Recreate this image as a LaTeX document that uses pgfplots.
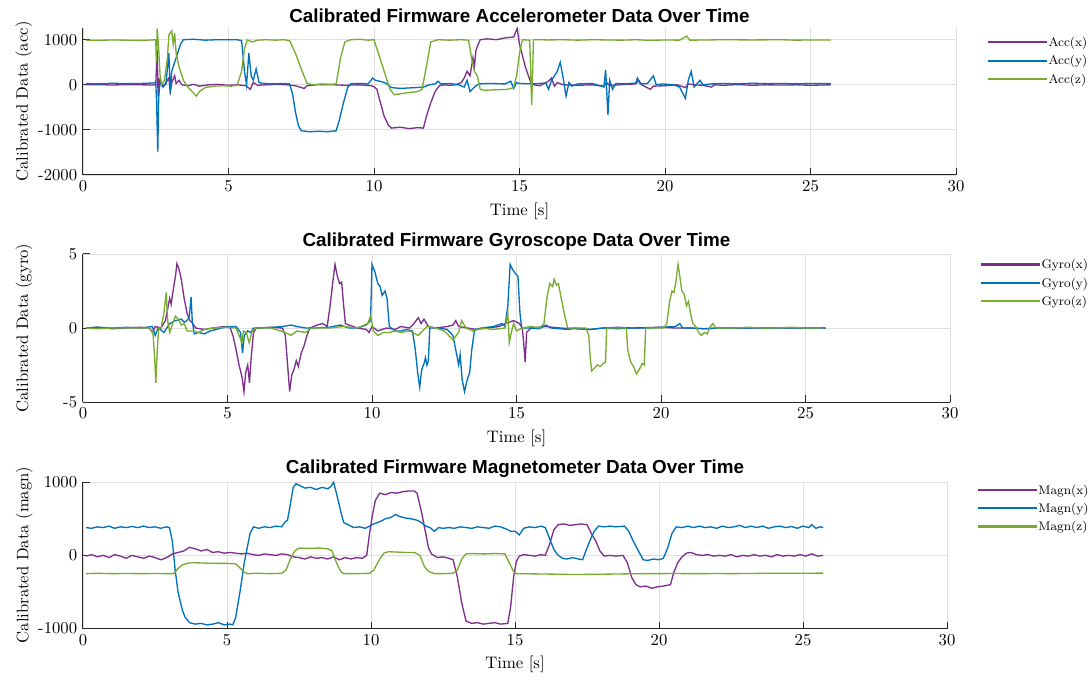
\documentclass[border=0pt]{standalone}
\usepackage{fontspec}
\usepackage{pgfplots}
\pgfplotsset{compat=1.18}
\newfontfamily\titlefont{Liberation Sans}

\definecolor{mpurple}{RGB}{126,47,142}
\definecolor{mblue}{RGB}{0,114,189}
\definecolor{mgreen}{RGB}{119,172,48}

\pgfplotsset{
  sensor/.style={
    scale only axis,
    xmin=0, xmax=30, xtick={0,5,...,30},
    axis lines=left,
    axis line style={-, black!85, line width=0.6pt},
    tick align=inside, tick style={black!85, line width=0.6pt},
    major tick length=4pt,
    grid=major, grid style={gray!25, line width=0.5pt},
    xlabel={Time [s]},
    /pgf/number format/.cd, set thousands separator={}, assume math mode=true, /pgfplots/.cd,
    tick label style={font=\fontsize{10}{12}\selectfont},
    label style={font=\fontsize{10.5}{12}\selectfont},
    every axis y label/.style={at={(rel axis cs:-0.068,0.5)}, rotate=90, anchor=center},
    every axis x label/.style={at={(rel axis cs:0.5,-0.245)}, anchor=center},
    every axis title/.style={at={(rel axis cs:0.5,1)}, anchor=center, yshift=7.4pt,
      font=\titlefont\bfseries\fontsize{11.3}{13}\selectfont},
    every axis plot/.append style={line width=0.8pt},
    legend cell align=left,
    legend style={draw=none, fill=none, anchor=north west, inner sep=0pt,
      font=\fontsize{7.5}{9}\selectfont, row sep=2pt,
      nodes={text height=6pt, text depth=2pt, inner sep=0.5pt}},
    legend image code/.code={\draw[#1, line width=1.25pt] (0pt,0.6pt) -- (35pt,0.6pt);},
    cycle list={{mpurple},{mblue},{mgreen}},
  }
}

\begin{document}
\begin{tikzpicture}
\useasboundingbox (0pt,0pt) rectangle (653.4pt,-408.6pt);

% ---------------- accelerometer ----------------
\begin{axis}[sensor,
  at={(49.8pt,-16.8pt)}, anchor=north west,
  width=523.8pt, height=88.2pt,
  ymin=-2000, ymax=1260, ytick={-2000,-1000,0,1000},
  ylabel={Calibrated Data (acc)},
  title={Calibrated Firmware Accelerometer Data Over Time},
  legend style={at={(rel axis cs:1.0355,0.949)}},
]
\addplot coordinates {
(0.1,0) (0.5,5) (1.0,-5) (1.5,5) (2.0,0) (2.4,-5) (2.5,10) (2.55,780) (2.58,-260) (2.62,100)
(2.7,-20) (2.8,0) (2.95,150) (3.0,-150) (3.05,50) (3.15,200) (3.2,30) (3.3,100) (3.4,0) (3.6,-20)
(3.8,10) (4.0,-30) (4.3,0) (4.6,10) (5.0,-10) (5.3,0) (5.6,-20) (5.75,-100) (5.85,50) (6.0,-10)
(6.3,0) (6.7,10) (7.0,0) (7.3,-20) (7.6,-80) (7.7,-20) (8.0,0) (8.5,5) (9.0,-10) (9.5,0)
(9.9,-20) (10.0,-40) (10.1,-100) (10.2,-350) (10.35,-700) (10.5,-900) (10.6,-960) (10.9,-940)
(11.2,-970) (11.5,-950) (11.7,-960) (11.8,-700) (11.95,-400) (12.1,-150) (12.25,-20) (12.4,0)
(12.6,-10) (12.8,0) (13.0,50) (13.1,150) (13.2,300) (13.3,200) (13.4,600) (13.45,400) (13.5,750)
(13.55,850) (13.65,1000) (13.9,1020) (14.2,1000) (14.5,1040) (14.8,1060) (14.92,1250) (15.0,900)
(15.2,400) (15.4,30) (15.5,0) (15.7,-20) (16.0,80) (16.1,150) (16.2,-30) (16.3,50) (16.5,0)
(17.0,-10) (17.5,0) (17.9,-30) (18.0,50) (18.1,-20) (18.4,0) (19.0,20) (19.1,100) (19.2,0)
(19.5,-100) (19.6,-30) (20.0,-20) (20.4,0) (20.7,-60) (20.8,20) (21.0,0) (21.3,-10) (21.6,-50)
(21.7,0) (22.0,-10) (22.5,5) (23.0,-10) (23.5,0) (24.0,-5) (24.5,0) (25.0,-10) (25.7,0)
};
\addplot coordinates {
(0.1,30) (0.5,20) (1.0,35) (1.5,25) (2.0,30) (2.4,40) (2.5,50) (2.53,-400) (2.57,-1480) (2.6,-300)
(2.65,100) (2.75,-50) (2.85,20) (2.95,700) (3.0,-200) (3.05,300) (3.15,500) (3.25,700) (3.35,900)
(3.45,1000) (3.8,1010) (4.2,990) (4.6,1000) (5.0,1000) (5.3,1000) (5.45,980) (5.55,300) (5.62,0)
(5.7,700) (5.78,200) (5.85,100) (5.95,350) (6.05,50) (6.2,30) (6.5,20) (6.9,30) (7.1,20)
(7.2,-200) (7.3,-600) (7.4,-900) (7.5,-1020) (7.8,-1040) (8.1,-1030) (8.4,-1040) (8.7,-1020)
(8.8,-800) (8.95,-400) (9.1,-50) (9.2,20) (9.5,30) (9.8,20) (9.95,150) (10.05,100) (10.2,80)
(10.4,40) (10.6,-60) (10.9,-80) (11.2,-70) (11.5,-60) (11.7,-50) (11.9,0) (12.1,20) (12.2,80)
(12.3,20) (12.6,30) (12.9,0) (13.1,-50) (13.2,100) (13.3,-150) (13.45,-50) (13.6,20) (14.0,30)
(14.5,20) (14.7,80) (14.8,-80) (14.9,50) (15.0,30) (15.5,20) (15.9,40) (16.0,-100) (16.1,100)
(16.3,300) (16.4,500) (16.5,150) (16.6,-250) (16.7,50) (16.8,-30) (17.0,20) (17.5,30) (17.9,-50)
(17.96,330) (18.04,-670) (18.1,100) (18.2,-100) (18.3,30) (18.6,20) (19.0,40) (19.05,150)
(19.15,20) (19.4,30) (19.6,200) (19.7,0) (19.9,20) (20.3,0) (20.5,-50) (20.7,-300) (20.8,100)
(20.9,300) (21.0,-50) (21.2,100) (21.3,0) (21.6,20) (22.0,30) (22.5,20) (23.0,35) (23.5,25)
(24.0,30) (24.5,20) (25.0,30) (25.7,25)
};
\addplot coordinates {
(0.1,990) (0.5,985) (1.0,995) (1.5,990) (2.0,985) (2.4,995) (2.5,1000) (2.52,500) (2.55,1250)
(2.6,800) (2.65,200) (2.7,0) (2.8,100) (2.9,600) (2.95,1100) (3.05,1200) (3.1,900) (3.15,1150)
(3.2,700) (3.3,400) (3.45,100) (3.6,-50) (3.75,-150) (3.9,-250) (4.0,-150) (4.2,-60) (4.5,-30)
(4.8,-20) (5.1,-30) (5.3,-10) (5.45,300) (5.55,800) (5.65,1000) (5.8,950) (6.0,990) (6.3,1000)
(6.6,990) (6.9,1000) (7.1,980) (7.3,700) (7.5,350) (7.7,30) (7.9,0) (8.2,20) (8.5,10) (8.7,20)
(8.85,600) (9.0,950) (9.2,1000) (9.5,1010) (9.8,990) (10.0,1000) (10.15,700) (10.35,300)
(10.55,-100) (10.7,-220) (10.9,-200) (11.2,-170) (11.5,-150) (11.65,-100) (11.8,400) (11.95,950)
(12.2,1000) (12.6,990) (13.0,1000) (13.25,990) (13.35,600) (13.45,300) (13.55,200) (13.65,-100)
(13.8,-120) (14.2,-110) (14.6,-100) (14.8,-60) (14.9,200) (15.0,700) (15.1,1000) (15.35,990)
(15.42,-450) (15.48,1000) (15.7,1000) (16.0,995) (16.5,1000) (17.0,990) (17.5,1000) (18.0,995)
(18.5,990) (19.0,1000) (19.5,985) (20.0,995) (20.5,990) (20.75,1080) (20.85,990) (21.5,995)
(22.0,1000) (23.0,995) (24.0,1000) (24.5,990) (25.0,995) (25.7,995)
};
\legend{Acc(x), Acc(y), Acc(z)}
\end{axis}

% ---------------- gyroscope ----------------
\begin{axis}[sensor,
  at={(49.8pt,-152.4pt)}, anchor=north west,
  width=520.2pt, height=88.8pt,
  ymin=-5, ymax=5, ytick={-5,0,5},
  ylabel={Calibrated Data (gyro)},
  title={Calibrated Firmware Gyroscope Data Over Time},
  legend style={at={(rel axis cs:1.0345,0.975)}},
]
\addplot coordinates {
(0.1,0) (0.5,0.05) (1.0,-0.05) (1.5,0) (2.0,0.05) (2.3,0) (2.4,-0.3) (2.5,0.1) (2.7,0) (2.85,0.5)
(2.95,1.5) (3.0,2.0) (3.05,1.6) (3.1,2.3) (3.2,3.5) (3.25,4.35) (3.32,4.0) (3.4,3.3) (3.5,2.0)
(3.6,1.0) (3.7,0.5) (3.8,0.3) (3.9,0) (4.2,-0.1) (4.5,0) (4.9,0.1) (5.1,0) (5.2,-0.6) (5.3,-1.5)
(5.4,-2.5) (5.5,-3.3) (5.57,-4.3) (5.63,-3.0) (5.7,-2.5) (5.76,-3.7) (5.82,-2.0) (5.9,-0.3)
(6.0,0) (6.5,0.05) (6.9,0) (7.0,-0.5) (7.08,-2.5) (7.15,-4.3) (7.22,-3.2) (7.3,-2.8) (7.38,-2.2)
(7.45,-2.6) (7.55,-1.7) (7.65,-1.2) (7.75,-0.5) (7.85,0) (8.1,0.2) (8.3,0.3) (8.45,0.1) (8.55,1.5)
(8.65,3.2) (8.72,4.3) (8.8,3.5) (8.88,3.0) (8.95,3.1) (9.02,1.5) (9.08,0.3) (9.2,0.2) (9.5,0)
(9.8,-0.1) (9.9,-0.3) (10.0,0.1) (10.2,-0.2) (10.5,0) (10.8,-0.1) (11.0,0.1) (11.3,0) (11.45,0.3)
(11.6,0.7) (11.7,0.3) (11.8,0.6) (11.95,0.1) (12.2,0) (12.6,0.1) (12.8,0.2) (12.9,0.5) (13.0,0.1)
(13.3,0) (13.6,-0.1) (14.0,0) (14.4,0.1) (14.6,0.3) (14.9,0.5) (15.1,0.3) (15.2,0) (15.25,-1.0)
(15.3,-2.3) (15.35,-0.3) (15.5,0) (16.0,0.1) (16.5,0) (17.0,-0.05) (17.6,-0.1) (18.0,0)
(18.5,0.05) (19.0,0) (20.0,0.05) (20.5,0) (21.0,0) (21.5,-0.05) (22,0) (23,0) (24,0) (25,0) (25.7,0)
};
\addplot coordinates {
(0.1,0) (0.5,0.05) (1.0,0) (1.5,0.05) (2.0,0) (2.4,0.1) (2.5,-0.5) (2.6,0) (2.8,-0.3) (3.0,0.3)
(3.2,0.5) (3.4,0.6) (3.5,0.4) (3.6,0.5) (3.68,0.8) (3.74,2.1) (3.78,0.5) (3.85,-0.4) (4.0,-0.3)
(4.2,-0.4) (4.4,-0.2) (4.6,-0.1) (4.8,0) (5.0,0.1) (5.3,0.1) (5.45,-0.3) (5.52,-1.7) (5.58,-0.5)
(5.7,-0.2) (5.8,-0.3) (5.9,0) (6.2,0) (6.6,0.05) (6.9,0.1) (7.2,0.2) (7.4,0.1) (7.7,0) (8.0,0)
(8.5,0.05) (8.9,0.2) (9.2,0) (9.5,0) (9.8,0.2) (9.95,0.5) (10.0,4.3) (10.1,3.8) (10.2,3.0)
(10.28,2.8) (10.35,2.2) (10.45,2.5) (10.52,2.0) (10.6,0.1) (10.8,-0.2) (11.0,-0.2) (11.2,-0.1)
(11.4,-0.2) (11.5,-1.5) (11.58,-3.0) (11.65,-4.0) (11.72,-2.8) (11.8,-2.4) (11.85,-2.0) (11.9,-2.5)
(11.95,-2.2) (12.0,0) (12.3,0) (12.6,-0.1) (12.8,-0.5) (12.9,-1.5) (13.0,-2.5) (13.05,-1.8)
(13.12,-3.5) (13.2,-4.3) (13.28,-3.6) (13.38,-3.0) (13.45,-1.5) (13.55,-0.1) (13.8,0) (14.2,0.1)
(14.5,0.3) (14.6,0.1) (14.7,1.5) (14.78,4.3) (14.85,4.0) (14.95,3.7) (15.05,3.5) (15.12,1.0)
(15.18,0) (15.4,0) (15.8,-0.05) (16.0,0.2) (16.2,0) (16.8,-0.1) (17.0,0) (17.5,-0.1) (18.0,0)
(18.5,-0.05) (19.0,0) (19.5,0) (20.0,0.05) (20.5,0.1) (20.65,0.3) (20.75,0) (21.0,0) (21.5,-0.05)
(22,0) (23,0) (24,0) (25,0) (25.7,0)
};
\addplot coordinates {
(0.1,0) (0.5,-0.05) (1.0,0) (1.5,0) (2.0,0) (2.3,0) (2.42,-0.3) (2.48,-2.0) (2.52,-3.7) (2.57,-1.5)
(2.62,0) (2.7,0) (2.8,1.0) (2.88,2.4) (2.93,0.5) (3.0,-0.3) (3.1,0.3) (3.2,0.8) (3.3,0.6) (3.4,0.2)
(3.5,0.3) (3.6,-0.2) (3.8,-0.2) (4.0,-0.3) (4.2,-0.1) (4.5,0) (5.0,0.05) (5.3,0) (5.4,-0.5)
(5.5,-1.0) (5.55,-0.2) (5.65,-0.3) (5.75,-1.0) (5.85,-0.2) (6.0,0) (6.5,0) (7.0,-0.3) (7.2,-0.5)
(7.4,-0.2) (7.7,-0.3) (7.9,0) (8.5,0) (9.0,0.1) (9.5,0) (9.85,0.3) (9.95,0.8) (10.05,-0.2)
(10.2,-0.5) (10.4,-0.3) (10.6,-0.3) (10.8,-0.2) (11.0,-0.3) (11.3,-0.2) (11.6,-0.5) (11.75,-0.2)
(11.9,0.1) (12.2,0) (12.5,-0.2) (12.8,-0.8) (13.0,-0.3) (13.1,0.5) (13.25,0) (13.5,-0.2) (13.8,0)
(14.2,-0.1) (14.6,0) (14.7,1.0) (14.75,-1.0) (14.82,-0.3) (14.9,0.3) (15.0,-0.2) (15.2,0)
(15.5,0.1) (15.8,0) (15.95,0.3) (16.05,2.0) (16.15,3.0) (16.25,2.8) (16.3,3.3) (16.38,2.9)
(16.45,3.0) (16.55,2.0) (16.65,1.0) (16.77,0) (17.0,0) (17.4,0) (17.5,-0.5) (17.55,-2.0)
(17.6,-2.9) (17.7,-2.7) (17.8,-2.5) (17.9,-2.6) (18.0,-2.4) (18.08,-2.3) (18.12,0) (18.4,0)
(18.8,0) (18.85,-1.5) (18.95,-2.3) (19.05,-2.6) (19.15,-3.1) (19.25,-2.8) (19.35,-2.4) (19.42,-2.5)
(19.47,0) (19.8,0) (20.1,0) (20.2,0.3) (20.3,1.8) (20.38,2.5) (20.45,2.4) (20.52,3.2) (20.59,4.3)
(20.65,3.5) (20.72,2.5) (20.8,2.3) (20.88,1.5) (20.95,1.8) (21.02,1.0) (21.1,0.3) (21.2,0.1)
(21.3,-0.3) (21.4,-0.5) (21.5,-0.3) (21.6,-0.4) (21.7,0.1) (21.8,0.3) (21.9,0) (22.5,0) (23,0.05)
(23.5,0) (24,0) (24.5,0.05) (25,0) (25.58,0)
};
\legend{Gyro(x), Gyro(y), Gyro(z)}
\end{axis}

% ---------------- magnetometer ----------------
\begin{axis}[sensor,
  at={(49.8pt,-288.9pt)}, anchor=north west,
  width=518.4pt, height=88.2pt,
  ymin=-1000, ymax=1010, ytick={-1000,0,1000},
  ylabel={Calibrated Data (magn)},
  title={Calibrated Firmware Magnetometer Data Over Time},
  legend style={at={(rel axis cs:1.0345,0.99)}},
]
\addplot coordinates {
(0.1,-10) (0.3,10) (0.5,-20) (0.7,0) (0.9,-30) (1.1,10) (1.3,-10) (1.5,-40) (1.7,0) (1.9,-20)
(2.1,-40) (2.3,-10) (2.5,-30) (2.7,-60) (2.85,-40) (2.95,-20) (3.1,20) (3.3,40) (3.5,60) (3.7,110)
(3.9,90) (4.1,60) (4.3,80) (4.5,40) (4.7,50) (4.9,30) (5.1,40) (5.3,30) (5.5,20) (5.7,30) (5.9,10)
(6.1,0) (6.3,20) (6.5,10) (6.7,0) (6.9,20) (7.1,10) (7.3,-20) (7.5,-30) (7.7,-50) (7.9,-20)
(8.1,-40) (8.3,-30) (8.5,-50) (8.7,-20) (8.9,-60) (9.1,-30) (9.3,-50) (9.5,-30) (9.7,-40)
(9.85,0) (9.95,300) (10.05,550) (10.15,750) (10.3,850) (10.5,830) (10.7,860) (10.9,850)
(11.1,870) (11.3,880) (11.5,880) (11.6,850) (11.75,600) (11.9,300) (12.0,100) (12.1,20)
(12.3,-30) (12.5,-20) (12.7,-40) (12.85,-60) (13.0,-300) (13.15,-650) (13.3,-900) (13.5,-930)
(13.7,-920) (13.9,-940) (14.1,-930) (14.3,-920) (14.5,-940) (14.75,-930) (14.85,-700)
(14.95,-300) (15.05,-80) (15.15,-10) (15.3,10) (15.5,0) (15.7,-10) (15.9,10) (16.05,0) (16.2,150)
(16.35,350) (16.5,420) (16.7,430) (16.9,410) (17.1,420) (17.3,430) (17.5,420) (17.65,300)
(17.8,200) (17.95,60) (18.1,-10) (18.3,0) (18.5,-10) (18.75,0) (18.9,-100) (19.05,-300)
(19.2,-400) (19.35,-430) (19.55,-420) (19.75,-450) (19.95,-430) (20.15,-420) (20.4,-400)
(20.5,-250) (20.65,-100) (20.8,-20) (20.95,30) (21.1,40) (21.3,10) (21.5,0) (21.7,10) (21.9,-10)
(22.1,0) (22.3,-10) (22.5,10) (22.7,-20) (22.9,0) (23.1,-10) (23.3,10) (23.5,-10) (23.7,0)
(23.9,-20) (24.1,10) (24.3,-10) (24.5,0) (24.7,-10) (24.9,10) (25.1,-10) (25.3,20) (25.5,-10)
(25.7,0)
};
\addplot coordinates {
(0.1,380) (0.3,370) (0.5,390) (0.7,380) (0.9,400) (1.1,370) (1.3,390) (1.5,380) (1.7,395)
(1.9,380) (2.1,400) (2.3,380) (2.5,390) (2.7,370) (2.9,390) (3.0,380) (3.1,200) (3.2,-200)
(3.3,-500) (3.45,-750) (3.55,-850) (3.7,-920) (3.9,-940) (4.1,-930) (4.3,-950) (4.5,-940)
(4.7,-920) (4.9,-950) (5.1,-940) (5.2,-950) (5.3,-850) (5.45,-500) (5.6,-100) (5.7,100) (5.8,300)
(5.92,390) (6.1,370) (6.3,390) (6.5,380) (6.7,400) (6.9,390) (7.0,450) (7.1,480) (7.2,700)
(7.3,930) (7.4,980) (7.55,950) (7.7,920) (7.9,930) (8.1,900) (8.3,930) (8.5,910) (8.6,940)
(8.7,1000) (8.8,850) (8.95,600) (9.05,450) (9.2,420) (9.4,380) (9.6,390) (9.8,370) (9.95,400)
(10.1,430) (10.3,460) (10.5,500) (10.7,520) (10.85,560) (11.0,530) (11.2,510) (11.4,500)
(11.6,480) (11.75,450) (11.9,400) (12.05,380) (12.2,330) (12.35,380) (12.5,370) (12.7,380)
(12.9,370) (13.1,390) (13.3,380) (13.5,370) (13.7,390) (13.9,380) (14.1,370) (14.3,400)
(14.5,390) (14.7,360) (14.85,330) (15.0,330) (15.15,280) (15.3,370) (15.5,390) (15.7,380)
(15.9,400) (16.05,380) (16.2,230) (16.35,80) (16.5,0) (16.65,-40) (16.8,-50) (17.0,-30)
(17.2,-50) (17.35,-60) (17.45,50) (17.6,200) (17.75,330) (17.9,400) (18.1,390) (18.3,400)
(18.5,390) (18.8,400) (18.95,330) (19.1,200) (19.3,50) (19.45,-60) (19.6,-70) (19.8,-50)
(20.0,-60) (20.15,-40) (20.3,100) (20.45,300) (20.6,390) (20.8,380) (21.0,400) (21.2,380)
(21.4,400) (21.6,380) (21.8,390) (22.0,370) (22.2,400) (22.4,380) (22.6,390) (22.8,410)
(23.0,380) (23.2,400) (23.4,380) (23.6,400) (23.8,370) (24.0,390) (24.2,400) (24.4,380)
(24.6,395) (24.8,370) (25.0,400) (25.2,380) (25.3,420) (25.45,370) (25.6,390) (25.7,380)
};
\addplot coordinates {
(0.1,-250) (0.5,-245) (1.0,-250) (1.5,-248) (2.0,-250) (2.5,-248) (3.0,-250) (3.15,-250)
(3.3,-180) (3.45,-130) (3.6,-110) (3.8,-100) (4.2,-105) (4.6,-110) (5.0,-110) (5.3,-115)
(5.45,-170) (5.6,-230) (5.7,-250) (6.0,-245) (6.5,-250) (6.9,-245) (7.05,-200) (7.2,-50)
(7.35,60) (7.5,100) (7.8,95) (8.2,100) (8.5,90) (8.65,60) (8.8,-100) (8.95,-220) (9.05,-250)
(9.5,-250) (9.95,-245) (10.1,-200) (10.3,-50) (10.45,30) (10.6,50) (10.9,45) (11.2,40) (11.5,40)
(11.7,0) (11.85,-150) (12.0,-220) (12.2,-250) (12.5,-250) (12.85,-245) (13.0,-200) (13.15,-50)
(13.3,20) (13.5,25) (13.9,20) (14.3,25) (14.65,20) (14.8,-100) (14.95,-220) (15.05,-250)
(15.5,-252) (16,-255) (16.5,-258) (17,-262) (17.5,-260) (18,-258) (18.5,-255) (19,-252)
(19.5,-250) (20,-250) (20.5,-248) (21,-250) (21.5,-250) (22,-248) (22.5,-250) (23,-248)
(23.5,-246) (24,-245) (24.5,-244) (25,-244) (25.7,-243)
};
\legend{Magn(x), Magn(y), Magn(z)}
\end{axis}
\end{tikzpicture}
\end{document}
